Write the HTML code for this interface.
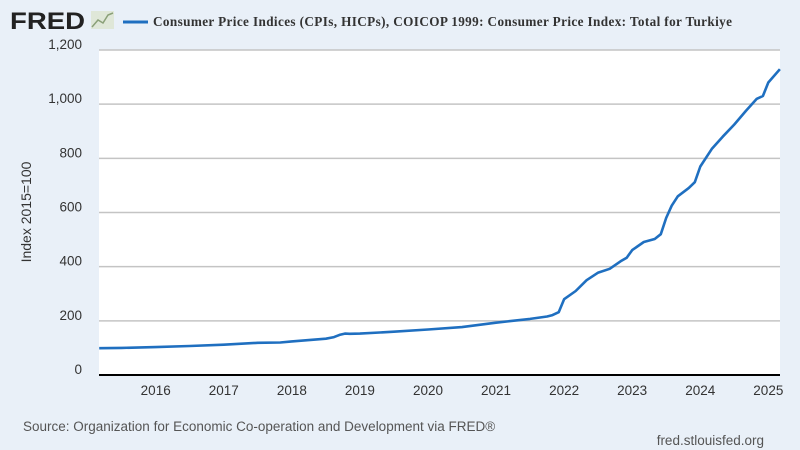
<!DOCTYPE html>
<html><head><meta charset="utf-8"><style>
body{margin:0;width:800px;height:450px;background:#e9f0f8;overflow:hidden;font-family:"Liberation Sans",sans-serif}
svg{display:block}
</style></head><body>
<svg width="800" height="450">
<text x="10" y="29" font-family="Liberation Sans" font-weight="bold" font-size="24" fill="#222" textLength="75" lengthAdjust="spacingAndGlyphs">FRED</text>
<g><rect x="91" y="11" width="23" height="18" fill="#dfe7d8"/><polyline points="92,27 98,20 103,23 108,15 113,13" fill="none" stroke="#8aa078" stroke-width="1.5"/></g>
<line x1="123" y1="22" x2="148" y2="22" stroke="#1f6fc0" stroke-width="3"/>
<text x="153" y="26" font-family="Liberation Serif" font-weight="bold" font-size="13.2" fill="#333" textLength="579">Consumer Price Indices (CPIs, HICPs), COICOP 1999: Consumer Price Index: Total for Turkiye</text>
<rect x="99" y="50" width="681" height="325" fill="#fff"/>
<g id="grid"></g><g id="yt"></g><g id="xt"></g>
<line x1="99" y1="375" x2="780" y2="375" stroke="#000" stroke-width="2"/>
<path id="ln" fill="none" stroke="#1f6fc0" stroke-width="2.6" stroke-linejoin="round"/>
<text transform="translate(31,212) rotate(-90)" text-anchor="middle" font-size="14" fill="#333">Index 2015=100</text>
<text x="23" y="431" font-size="13.5" fill="#555">Source: Organization for Economic Co-operation and Development via FRED®</text>
<text x="764" y="445" text-anchor="end" font-size="13.5" fill="#555">fred.stlouisfed.org</text>
</svg>
<script>
const dates=[2015.17,2015.5,2016.0,2016.5,2017.0,2017.5,2017.83,2018.0,2018.5,2018.62,2018.7,2018.78,2018.85,2019.0,2019.5,2020.0,2020.5,2021.0,2021.5,2021.75,2021.83,2021.92,2022.0,2022.17,2022.33,2022.5,2022.67,2022.83,2022.92,2023.0,2023.17,2023.33,2023.42,2023.5,2023.58,2023.67,2023.83,2023.92,2024.0,2024.17,2024.33,2024.5,2024.67,2024.83,2024.92,2025.0,2025.17];
const values=[99,100,103,107,112,119,120,124,134,140,148,153,152,153,160,168,177,193,207,216,221,232,280,310,350,378,392,420,433,461,491,502,520,580,625,660,690,712,770,835,880,925,975,1020,1030,1080,1129];
const yTicks=[0,200,400,600,800,1000,1200];
const yLabels=["0","200","400","600","800","1,000","1,200"];
const xTicks=[2016,2017,2018,2019,2020,2021,2022,2023,2024,2025];
const NS="http://www.w3.org/2000/svg";
const X=d=>155.7+(d-2016)*68.07, Y=v=>375-v*325/1200;
const g=document.getElementById('grid'),yt=document.getElementById('yt'),xt=document.getElementById('xt');
yTicks.forEach((v,i)=>{
 if(v>0){const l=document.createElementNS(NS,'line');
 l.setAttribute('x1',99);l.setAttribute('x2',780);l.setAttribute('y1',Y(v));l.setAttribute('y2',Y(v));
 l.setAttribute('stroke','#c4c4c4');l.setAttribute('stroke-width','1.5');
 
 
 g.appendChild(l);}
 const t=document.createElementNS(NS,'text');
 t.setAttribute('x',82);t.setAttribute('y',Y(v)-1);t.setAttribute('text-anchor','end');
 t.setAttribute('font-size','13.5');t.setAttribute('fill','#333');t.textContent=yLabels[i];
 
 
 yt.appendChild(t);
});
xTicks.forEach(yr=>{
 const t=document.createElementNS(NS,'text');
 t.setAttribute('x',X(yr));t.setAttribute('y',395);t.setAttribute('text-anchor','middle');
 t.setAttribute('font-size','13.5');t.setAttribute('fill','#333');t.textContent=yr;
 
 
 xt.appendChild(t);
});
document.getElementById('ln').setAttribute('d',dates.map((d,i)=>(i?'L':'M')+X(d).toFixed(1)+','+Y(values[i]).toFixed(1)).join(''));
</script>
</body></html>
